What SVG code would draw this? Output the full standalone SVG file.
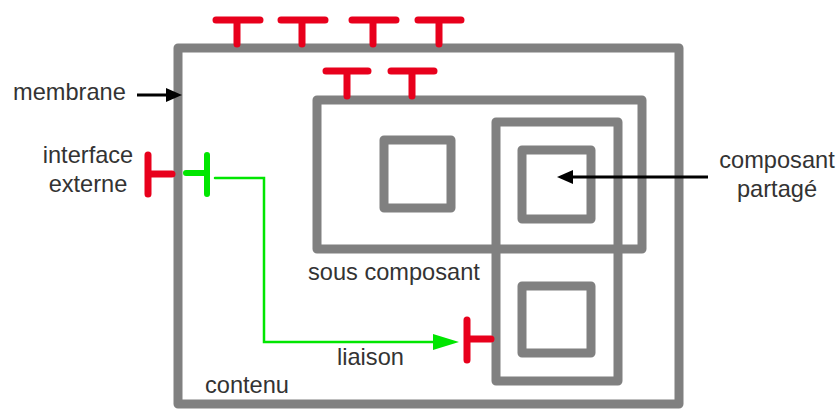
<svg xmlns="http://www.w3.org/2000/svg" width="839" height="409" viewBox="0 0 839 409">
<style>
.box{fill:none;stroke:#808080;stroke-width:9;stroke-linejoin:round}
.red{fill:none;stroke:#e8001c;stroke-width:7;stroke-linecap:round}
.grn{fill:none;stroke:#00e600;stroke-linecap:round}
.lbl{font-family:"Liberation Sans",Arial,sans-serif;font-size:23.6px;fill:#333}
.blk{stroke:#000;stroke-width:3;fill:none}
</style>
<rect width="839" height="409" fill="#fff"/>
<g id="membrane-box"><rect class="box" x="178" y="48" width="501" height="356"/></g>
<g id="sous-composant"><rect class="box" x="317" y="100" width="325" height="149"/></g>
<g id="composant-partage-cadre"><rect class="box" x="496" y="122" width="122" height="259"/></g>
<g id="carre-1"><rect class="box" x="384" y="140" width="67" height="68"/></g>
<g id="composant-partage"><rect class="box" x="522" y="150" width="69" height="69"/></g>
<g id="carre-3"><rect class="box" x="522" y="286" width="69" height="67"/></g>
<g id="interfaces-haut">
<path class="red" d="M216,20H260M237,20V44M281,20H325M302,20V44M352,20H396M373,20V44M418,20H461M439,20V44"/>
<path class="red" d="M326,71H368M347,71V96M391,71H434M412,71V96"/>
</g>
<g id="interface-externe"><path class="red" d="M148,155V194M148,174H172"/></g>
<g id="interface-interne"><path class="grn" stroke-width="6" d="M207,155V194M186,173H207"/></g>
<g id="interface-cible"><path class="red" d="M467,320V360M467,339H491"/></g>
<g id="connecteurs">
<path class="grn" stroke-width="2.5" d="M215,178H264V342H440"/>
<polygon points="433,334 459,342 433,350" fill="#00e600"/>
<line class="blk" x1="137" y1="95" x2="170" y2="95"/>
<polygon points="166,88 182,95 166,102" fill="#000"/>
<line class="blk" x1="708" y1="177" x2="570" y2="177"/>
<polygon points="573,170 557,177 573,184" fill="#000"/>
</g>
<g id="textes">
<text class="lbl" x="13" y="100">membrane</text>
<text class="lbl" x="88" y="163" text-anchor="middle">interface</text>
<text class="lbl" x="88" y="192" text-anchor="middle">externe</text>
<text class="lbl" x="308" y="280">sous composant</text>
<text class="lbl" x="337" y="365">liaison</text>
<text class="lbl" x="205" y="393">contenu</text>
<text class="lbl" x="777" y="168" text-anchor="middle">composant</text>
<text class="lbl" x="777" y="197" text-anchor="middle">partagé</text>
</g>
</svg>
